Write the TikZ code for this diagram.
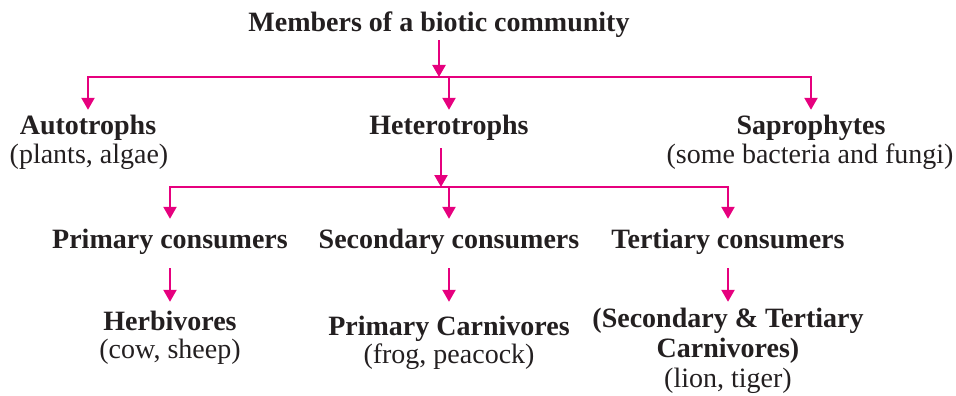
\documentclass[tikz,border=0pt]{standalone}
\usepackage{fontspec}
\setmainfont{Liberation Serif}
\usetikzlibrary{arrows.meta}
\definecolor{pinkc}{RGB}{230,0,126}
\definecolor{ink}{RGB}{35,31,32}
\begin{document}
\begin{tikzpicture}[x=1pt,y=-1pt,
  lbl/.style={inner sep=0pt, anchor=base, text=ink, font=\fontsize{28}{31}\selectfont, text height=19pt, text depth=7pt},
  hd/.style={lbl, font=\fontsize{28}{31}\selectfont\bfseries},
  conn/.style={draw=pinkc, line width=2.3pt, line join=miter},
  arr/.style={conn, -{Triangle[width=13pt,length=12pt]}},
  arrb/.style={conn, {Triangle[width=13pt,length=12pt]}-{Triangle[width=13pt,length=12pt]}}]
\useasboundingbox (0,0) rectangle (956,396);
% nodes
\node[hd] (title) at (439,32) {Members of a biotic community};
\node[hd] (auto) at (88,134) {Autotrophs};
\node[lbl] (auto2) at (89,163) {(plants, algae)};
\node[hd] (het) at (449,134) {Heterotrophs};
\node[hd] (sap) at (811,134) {Saprophytes};
\node[lbl] (sap2) at (810,163) {(some bacteria and fungi)};
\node[hd] (prim) at (170,248) {Primary consumers};
\node[hd] (sec) at (449,248) {Secondary consumers};
\node[hd] (tert) at (728,248) {Tertiary consumers};
\node[hd] (herb) at (170,330) {Herbivores};
\node[lbl] (herb2) at (170,358) {(cow, sheep)};
\node[hd] (pcar) at (449,335) {Primary Carnivores};
\node[lbl] (pcar2) at (449,363) {(frog, peacock)};
\node[hd] (stc) at (728,327) {(Secondary \& Tertiary};
\node[hd] (stc2) at (728,357) {Carnivores)};
\node[lbl] (stc3) at (728,387) {(lion, tiger)};
% junctions
\coordinate (j1) at (439,77);
\coordinate (j2) at (441,187);
% connectors
\draw[arr] ([yshift=-1pt]title.south) -- (j1);
\draw[arrb] ([yshift=5pt]auto.north) -- (auto |- j1) -- (sap |- j1) -- ([yshift=5pt]sap.north);
\draw[arr] (het |- j1) -- ([yshift=5pt]het.north);
\draw[arr] ([yshift=-7pt]het.south -| j2) -- (j2);
\draw[arrb] ([yshift=10pt]prim.north) -- (prim |- j2) -- (tert |- j2) -- ([yshift=10pt]tert.north);
\draw[arr] (sec |- j2) -- ([yshift=10pt]sec.north);
\draw[arr] ([yshift=-13pt]prim.south) -- ([yshift=9pt]herb.north);
\draw[arr] ([yshift=-13pt]sec.south) -- ([yshift=14pt]pcar.north);
\draw[arr] ([yshift=-13pt]tert.south) -- ([yshift=6pt]stc.north);
\end{tikzpicture}
\end{document}
